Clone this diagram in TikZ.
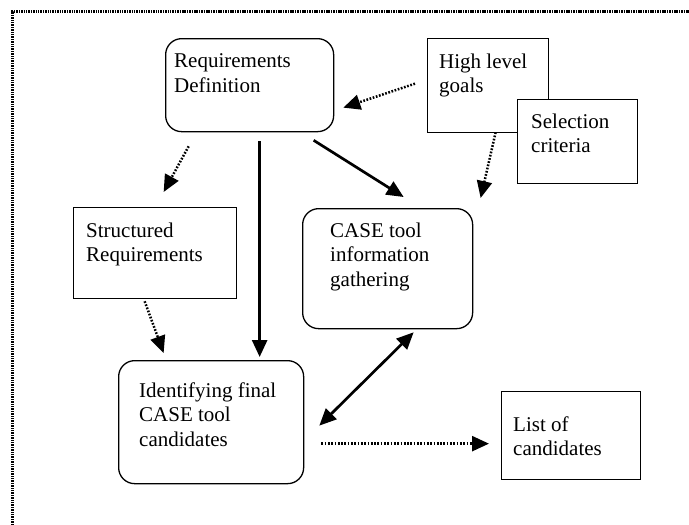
\documentclass[tikz,border=0pt]{standalone}
\usepackage{fontspec}
\setmainfont{Liberation Serif}
\usetikzlibrary{arrows.meta,calc}
\newcommand\boxtext[1]{\begin{tabular}[t]{@{}l@{}}#1\end{tabular}}
\begin{document}
\begin{tikzpicture}[x=1pt,y=-1pt,
  box/.style={draw, line width=1.3pt, fill=white, inner sep=0pt, anchor=north west},
  rbox/.style={box, rounded corners=16pt},
  txt/.style={anchor=base west, inner sep=0pt, font=\fontsize{21}{24.5}\selectfont},
  solidarrow/.style={line width=2.7pt, -{Triangle[length=17pt,width=15pt]}},
  dblarrow/.style={line width=2.7pt, {Triangle[length=17pt,width=15pt]}-{Triangle[length=17pt,width=15pt]}},
  dotarrow/.style={line width=2.5pt, dash pattern=on 1.7pt off 1.6pt, -{Triangle[length=17pt,width=15pt]}},
  framestyle/.style={line width=3pt, dash pattern=on 1.5pt off 0.9pt}]
\useasboundingbox (0,0) rectangle (689,525);
\fill[white] (0,0) rectangle (689,525);
% frame
\coordinate (f1) at (12,525);
\coordinate (f2) at (12,11);
\coordinate (f3) at (689,11);
\draw[framestyle] (f1) -- (f2) -- (f3);
% boxes
\node[rbox, minimum width=168pt, minimum height=93pt] (rd) at (165,38) {};
\node[box, minimum width=121pt, minimum height=94pt] (hg) at (427,38) {};
\node[box, minimum width=120pt, minimum height=84pt] (sc) at (517,99) {};
\node[box, minimum width=163pt, minimum height=91pt] (sr) at (73,207) {};
\node[rbox, minimum width=170pt, minimum height=120pt] (ci) at (302,208) {};
\node[rbox, minimum width=185pt, minimum height=123pt] (idf) at (118,360) {};
\node[box, minimum width=139pt, minimum height=88pt] (lc) at (501,391) {};
% texts
\node[txt] (rdt) at (174,67.5) {\boxtext{Requirements\\Definition}};
\node[txt] (hgt) at (439,68) {\boxtext{High level\\goals}};
\node[txt] (sct) at (531,128) {\boxtext{Selection\\criteria}};
\node[txt] (srt) at (86,237) {\boxtext{Structured\\Requirements}};
\node[txt] (cit) at (330,237) {\boxtext{CASE tool\\information\\gathering}};
\node[txt] (idft) at (139,397) {\boxtext{Identifying final\\CASE tool\\candidates}};
\node[txt] (lct) at (513,431) {\boxtext{List of\\candidates}};
% connectors
\draw[dotarrow] ($(hg.west)+(-12,-2)$) -- ($(rd.east)+(9,22.5)$);
\draw[dotarrow] ($(rd.south)+(-61,14)$) -- ($(sr.north)+(8.5,-15)$);
\draw[solidarrow] ($(rd.south)+(10,9)$) -- ($(idf.north)+(48.5,-3)$);
\draw[solidarrow] ($(rd.south)+(64,8)$) -- ($(ci.north)+(16,-11)$);
\draw[dotarrow] ($(hg.south)+(7.5,-1)$) -- ($(ci.north)+(93,-10)$);
\draw[dotarrow] ($(sr.south)+(-10.5,2)$) -- ($(idf.north)+(-47.5,-7)$);
\draw[dblarrow] ($(idf.east)+(15,3.5)$) -- ($(ci.south)+(26,3)$);
\draw[dotarrow] ($(idf.east)+(17,21.5)$) -- ($(lc.west)+(-12,8)$);
\end{tikzpicture}
\end{document}
